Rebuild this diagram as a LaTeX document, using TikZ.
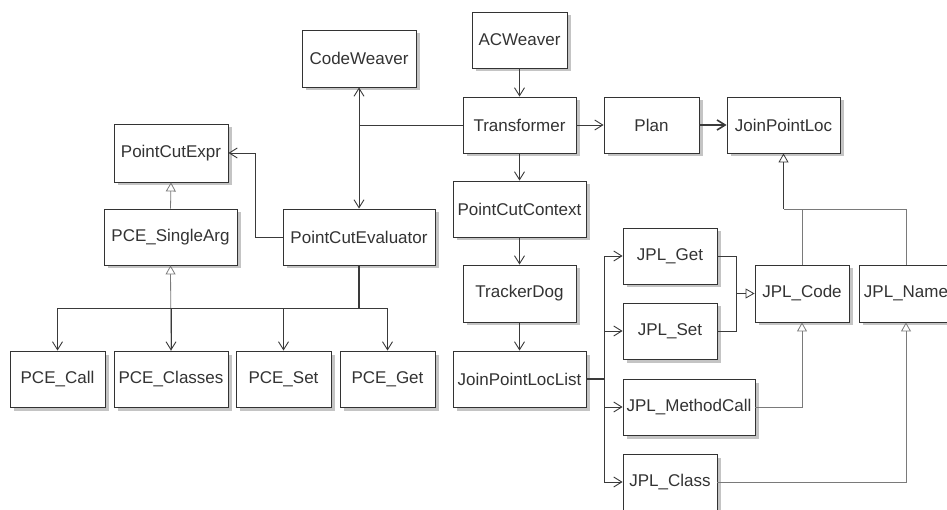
\documentclass[tikz,border=0pt]{standalone}
\usepackage{fontspec}
\setmainfont{Liberation Sans}
\usetikzlibrary{arrows.meta,shadows}
\definecolor{ink}{HTML}{333333}
\definecolor{edge}{HTML}{3A3A3A}
\definecolor{genc}{HTML}{7A7A7A}
\tikzset{
  cls/.style={draw=ink, line width=0.9pt, fill=white, inner sep=0pt,
    text=ink, font=\fontsize{17}{20}\selectfont,
    drop shadow={shadow xshift=3.5pt, shadow yshift=-3.5pt, fill=black!23, opacity=1}},
  assoc/.style={draw=edge, line width=0.9pt, -{Straight Barb[length=8pt,width=10pt]}},
  assocboth/.style={draw=edge, line width=0.9pt, {Straight Barb[length=8pt,width=10pt]}-{Straight Barb[length=8pt,width=10pt]}},
  plainline/.style={draw=edge, line width=0.9pt},
  heavy/.style={line width=1.6pt},
  gen/.style={draw=genc, line width=0.8pt, -{Triangle[open,length=9pt,width=10pt,line width=0.8pt]}},
  genline/.style={draw=genc, line width=0.8pt},
}
\begin{document}
\begin{tikzpicture}[x=1pt,y=-1pt]
\useasboundingbox (0,0) rectangle (947,510);
\clip (0,0) rectangle (947,510);

% classes (center, width, height)
\node[cls, minimum width=114pt, minimum height=57pt] (CodeWeaver) at (359,58.5) {CodeWeaver};
\node[cls, minimum width=95pt, minimum height=56pt] (ACWeaver) at (519.5,40) {ACWeaver};
\node[cls, minimum width=113pt, minimum height=56pt] (Transformer) at (519.5,125) {Transformer};
\node[cls, minimum width=95pt, minimum height=56pt] (Plan) at (651.5,125) {Plan};
\node[cls, minimum width=113pt, minimum height=56pt] (JoinPointLoc) at (783.5,125) {JoinPointLoc};
\node[cls, minimum width=114pt, minimum height=58pt] (PointCutExpr) at (171,153) {PointCutExpr};
\node[cls, minimum width=133pt, minimum height=56pt] (PCESingleArg) at (170.5,237) {PCE\_SingleArg};
\node[cls, minimum width=152pt, minimum height=56pt] (PointCutEvaluator) at (359,237) {PointCutEvaluator};
\node[cls, minimum width=133pt, minimum height=56pt] (PointCutContext) at (519.5,209) {PointCutContext};
\node[cls, minimum width=113pt, minimum height=57pt] (TrackerDog) at (519.5,293.5) {TrackerDog};
\node[cls, minimum width=133pt, minimum height=56pt] (JoinPointLocList) at (519.5,379) {JoinPointLocList};
\node[cls, minimum width=95pt, minimum height=56pt] (PCECall) at (57.5,379) {PCE\_Call};
\node[cls, minimum width=114pt, minimum height=56pt] (PCEClasses) at (171,379) {PCE\_Classes};
\node[cls, minimum width=95pt, minimum height=56pt] (PCESet) at (283.5,379) {PCE\_Set};
\node[cls, minimum width=95pt, minimum height=56pt] (PCEGet) at (387.5,379) {PCE\_Get};
\node[cls, minimum width=94pt, minimum height=56pt] (JPLGet) at (670,256) {JPL\_Get};
\node[cls, minimum width=94pt, minimum height=56pt] (JPLSet) at (670,331) {JPL\_Set};
\node[cls, minimum width=132pt, minimum height=56pt] (JPLMethodCall) at (689,407) {JPL\_MethodCall};
\node[cls, minimum width=94pt, minimum height=56pt] (JPLClass) at (670,482) {JPL\_Class};
\node[cls, minimum width=94pt, minimum height=57pt] (JPLCode) at (802,293.5) {JPL\_Code};
\node[cls, minimum width=94pt, minimum height=57pt] (JPLName) at (906,293.5) {JPL\_Name};

% junction points
\coordinate (jT) at (359,125);
\coordinate (jE) at (359,308);
\coordinate (jL) at (604,379);
\coordinate (jGS) at (736,293.5);
\coordinate (jJ) at (783.5,209);

% Transformer associations
\draw[assoc] (ACWeaver.south) -- (Transformer.north);
\draw[assoc] (Transformer.east) -- (Plan.west);
\draw[assoc, heavy] (Plan.east) -- (JoinPointLoc.west);
\draw[assoc] (Transformer.south) -- (PointCutContext.north);
\draw[assoc] (PointCutContext.south) -- (TrackerDog.north);
\draw[assoc] (TrackerDog.south) -- (JoinPointLocList.north);
\draw[plainline] (Transformer.west) -- (jT);
\draw[assocboth] (CodeWeaver.south) -- (PointCutEvaluator.north);

% evaluator side
\draw[assoc] (PointCutEvaluator.west) -- ++(-27,0) |- (PointCutExpr.east);
\draw[gen] (PCESingleArg.north) -- (PointCutExpr.south);
\draw[gen] (PCEClasses.north) -- (PCESingleArg.south);
\draw[plainline, heavy] (PointCutEvaluator.south) -- (jE);
\draw[assoc] (jE) -| (PCECall.north);
\draw[assoc] (jE) -| (PCEClasses.north);
\draw[assoc] (jE) -| (PCESet.north);
\draw[assoc] (jE) -| (PCEGet.north);

% join point location list
\draw[plainline, heavy] (JoinPointLocList.east) -- (jL);
\draw[assoc] (jL) |- (JPLGet.west);
\draw[assoc] (jL) |- (JPLSet.west);
\draw[assoc] (jL) |- (JPLMethodCall.west);
\draw[assoc] (jL) |- (JPLClass.west);

% generalisations to the join point classes
\draw[plainline] (JPLGet.east) -| (jGS);
\draw[plainline] (JPLSet.east) -| (jGS);
\draw[gen, draw=edge] (jGS) -- (JPLCode.west);
\draw[gen] (JPLMethodCall.east) -| (JPLCode.south);
\draw[gen] (JPLClass.east) -| (JPLName.south);
\draw[genline] (JPLCode.north) |- (jJ);
\draw[genline] (JPLName.north) |- (jJ);
\draw[gen, draw=edge, line width=1.3pt] (jJ) -- (JoinPointLoc.south);
\end{tikzpicture}
\end{document}
